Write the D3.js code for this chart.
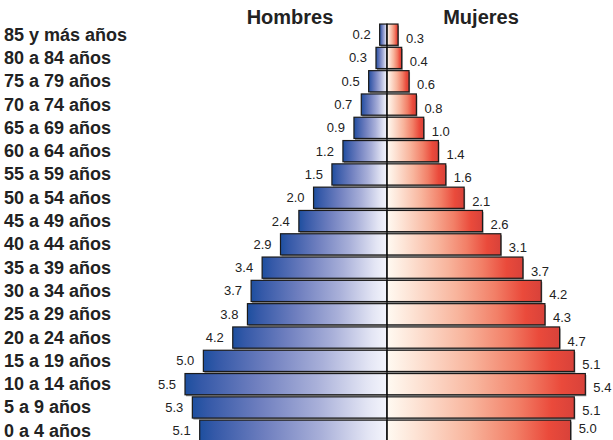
<!DOCTYPE html>
<html>
<head>
<meta charset="utf-8">
<script src="https://cdn.jsdelivr.net/npm/d3@7"></script>
<style>
  body { margin: 0; background: #fff; }
  text { font-family: "Liberation Sans", Arial, sans-serif; fill: #222; }
</style>
</head>
<body>
<svg id="chart" width="613" height="440"></svg>
<script>
// grupos de edad, de arriba hacia abajo
var grupos = ["85 y más años", "80 a 84 años", "75 a 79 años", "70 a 74 años", "65 a 69 años",
  "60 a 64 años", "55 a 59 años", "50 a 54 años", "45 a 49 años", "40 a 44 años", "35 a 39 años",
  "30 a 34 años", "25 a 29 años", "20 a 24 años", "15 a 19 años", "10 a 14 años", "5 a 9 años", "0 a 4 años"]
var hombres = [0.2, 0.3, 0.5, 0.7, 0.9, 1.2, 1.5, 2.0, 2.4, 2.9, 3.4, 3.7, 3.8, 4.2, 5.0, 5.5, 5.3, 5.1]
var mujeres = [0.3, 0.4, 0.6, 0.8, 1.0, 1.4, 1.6, 2.1, 2.6, 3.1, 3.7, 4.2, 4.3, 4.7, 5.1, 5.4, 5.1, 5.0]
var titulos = ["Hombres", "Mujeres"]

var svg = d3.select("#chart")
var centro = 387

var y = d3.scaleBand().domain(grupos).range([23, 23 + 18 * 23.3]).paddingInner(0.09).paddingOuter(0.045)
var xH = d3.scaleLinear().domain([0, 5.5]).range([centro, centro - 202])
var xM = d3.scaleLinear().domain([0, 5.5]).range([centro, centro + 202])

var defs = svg.append("defs")
var gAzul = defs.append("linearGradient").attr("id", "azul")
  .attr("x1", "0").attr("x2", "1").attr("y1", "0").attr("y2", "0")
gAzul.selectAll("stop").data([
  [0, "#1d4f9f"], [0.08, "#3559a8"], [0.35, "#6f7fbf"], [0.65, "#a9b0d9"], [0.9, "#e3e5f4"], [1, "#f4f5fc"]
]).enter().append("stop").attr("offset", d => d[0]).attr("stop-color", d => d[1])

var gRojo = defs.append("linearGradient").attr("id", "rojo")
  .attr("x1", "0").attr("x2", "1").attr("y1", "0").attr("y2", "0")
gRojo.selectAll("stop").data([
  [0, "#fffaf2"], [0.15, "#fde4d6"], [0.45, "#f8b49c"], [0.7, "#f27f67"], [0.88, "#ea4a3b"], [1, "#d8423a"]
]).enter().append("stop").attr("offset", d => d[0]).attr("stop-color", d => d[1])

var filas = grupos.map(function (g, i) { return { grupo: g, h: hombres[i], m: mujeres[i] } })

// sombras
svg.selectAll("rect.sombraH").data(filas).enter().append("rect")
  .attr("x", d => xH(d.h) + 1).attr("y", d => y(d.grupo) + 1.5)
  .attr("width", d => centro - xH(d.h)).attr("height", y.bandwidth())
  .attr("fill", "#8a8a8a")
svg.selectAll("rect.sombraM").data(filas).enter().append("rect")
  .attr("x", centro + 1).attr("y", d => y(d.grupo) + 1.5)
  .attr("width", d => xM(d.m) - centro).attr("height", y.bandwidth())
  .attr("fill", "#8a8a8a")

svg.selectAll("rect.barH").data(filas).enter().append("rect")
  .attr("class", "barH")
  .attr("x", d => xH(d.h)).attr("y", d => y(d.grupo))
  .attr("width", d => centro - xH(d.h)).attr("height", y.bandwidth())
  .attr("fill", "url(#azul)").attr("stroke", "#1a1a1a").attr("stroke-width", 1.2)

svg.selectAll("rect.barM").data(filas).enter().append("rect")
  .attr("class", "barM")
  .attr("x", centro).attr("y", d => y(d.grupo))
  .attr("width", d => xM(d.m) - centro).attr("height", y.bandwidth())
  .attr("fill", "url(#rojo)").attr("stroke", "#1a1a1a").attr("stroke-width", 1.2)

// linea central
svg.append("line")
  .attr("x1", centro).attr("x2", centro)
  .attr("y1", y(grupos[0])).attr("y2", 440)
  .attr("stroke", "#000").attr("stroke-width", 1)

// valores
svg.selectAll("text.valH").data(filas).enter().append("text")
  .attr("x", d => xH(d.h) - 9).attr("y", d => y(d.grupo) + y.bandwidth() / 2 + 4.5)
  .attr("text-anchor", "end").style("font-size", "13px")
  .text(d => d.h.toFixed(1))
svg.selectAll("text.valM").data(filas).enter().append("text")
  .attr("x", d => xM(d.m) + 8).attr("y", d => Math.min(y(d.grupo) + y.bandwidth() / 2 + 8, 433))
  .attr("text-anchor", "start").style("font-size", "13px")
  .text(d => d.m.toFixed(1))

// etiquetas de grupos
svg.selectAll("text.grupo").data(grupos).enter().append("text")
  .attr("x", 4).attr("y", d => y(d) + y.bandwidth() / 2 + 6)
  .style("font-size", "18px").style("font-weight", "bold")
  .text(d => d)

svg.selectAll("text.titulo").data(titulos).enter().append("text")
  .attr("x", (d, i) => i == 0 ? 290 : 481).attr("y", 24)
  .attr("text-anchor", "middle")
  .style("font-size", "20px").style("font-weight", "bold")
  .text(d => d)
</script>
</body>
</html>
